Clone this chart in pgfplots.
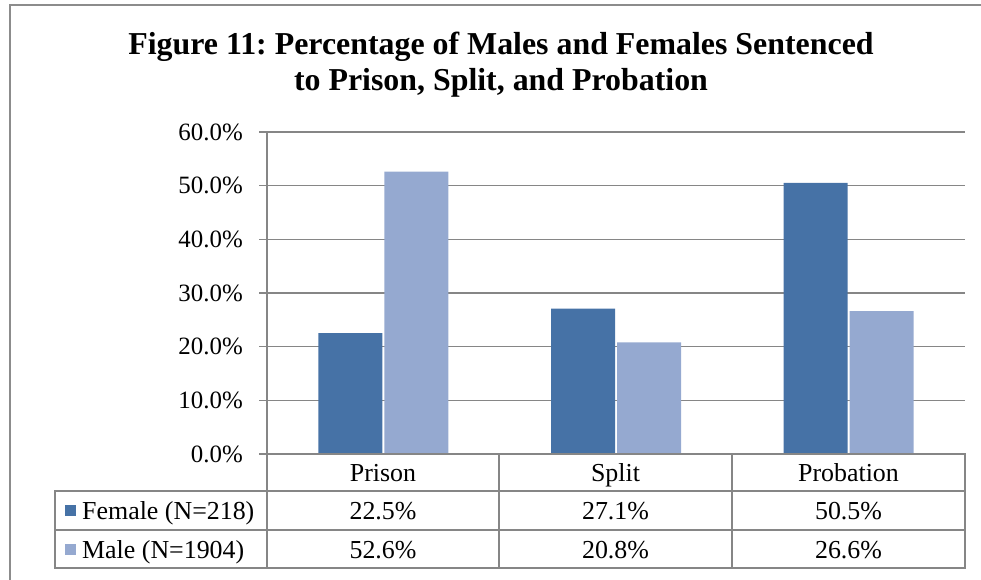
\documentclass[border=0pt]{standalone}
\usepackage{fontspec}
\setmainfont{Liberation Serif}
\usepackage{pgfplots}
\pgfplotsset{compat=1.18}
\definecolor{fem}{RGB}{70,114,166}
\definecolor{mal}{RGB}{149,169,208}
\definecolor{gridc}{RGB}{134,134,134}
\definecolor{framec}{RGB}{140,140,140}
\newcommand{\tf}{\fontsize{26}{30}\selectfont}
\frenchspacing
\begin{document}
\begin{tikzpicture}[x=1bp,y=1bp]
\useasboundingbox (0,0) rectangle (981,580);
\draw[framec, line width=1.5bp] (10,-5) -- (10,575) -- (990,575);
\node[anchor=base, font=\fontsize{32}{36}\selectfont\bfseries] at (501,525) {Figure 11: Percentage of Males and Females Sentenced};
\node[anchor=base, font=\fontsize{32}{36}\selectfont\bfseries] at (501,489) {to Prison, Split, and Probation};
\begin{axis}[at={(267bp,126bp)}, anchor=south west, scale only axis,
  width=698bp, height=322bp,
  ymin=0, ymax=60, xmin=-0.5, xmax=2.5,
  ytick={0,10,...,60}, xtick=\empty,
  axis lines*=left,
  axis line style={gridc, line width=1.5bp},
  ymajorgrids, grid style={gridc, line width=1.5bp},
  tick align=outside, major tick length=8bp,
  tick style={gridc, line width=1.5bp},
  /pgf/number format/assume math mode=true,
  yticklabel={\pgfmathprintnumber[fixed,fixed zerofill,precision=1]{\tick}\%},
  yticklabel style={font=\fontsize{25}{29}\selectfont, inner sep=0pt, xshift=-16bp},
  ybar, bar width=64bp,
]
\addplot[fill=fem, draw=none, bar shift=-33bp] coordinates {(0,22.5) (1,27.1) (2,50.5)};
\addplot[fill=mal, draw=none, bar shift=33bp] coordinates {(0,52.6) (1,20.8) (2,26.6)};
\end{axis}
\draw[gridc, line width=1.5bp] (267,126) -- (965,126) -- (965,12) -- (55,12) -- (55,89) -- (965,89);
\draw[gridc, line width=1.5bp] (55,50) -- (965,50);
\draw[gridc, line width=1.5bp] (267,126) -- (267,12);
\draw[gridc, line width=1.5bp] (499,126) -- (499,12);
\draw[gridc, line width=1.5bp] (732,126) -- (732,12);
\node[anchor=base, font=\tf] at (383,98) {Prison};
\node[anchor=base, font=\tf] at (615.5,98) {Split};
\node[anchor=base, font=\tf] at (848.5,98) {Probation};
\node[anchor=base, font=\tf] at (383,60) {22.5\%};
\node[anchor=base, font=\tf] at (615.5,60) {27.1\%};
\node[anchor=base, font=\tf] at (848.5,60) {50.5\%};
\node[anchor=base, font=\tf] at (383,21) {52.6\%};
\node[anchor=base, font=\tf] at (615.5,21) {20.8\%};
\node[anchor=base, font=\tf] at (848.5,21) {26.6\%};
\fill[fem] (65,64) rectangle (76,75);
\fill[mal] (65,25) rectangle (76,36);
\node[anchor=base west, font=\tf, inner sep=0pt] at (82,60) {Female (N=218)};
\node[anchor=base west, font=\tf, inner sep=0pt] at (82,21) {Male (N=1904)};
\end{tikzpicture}
\end{document}
